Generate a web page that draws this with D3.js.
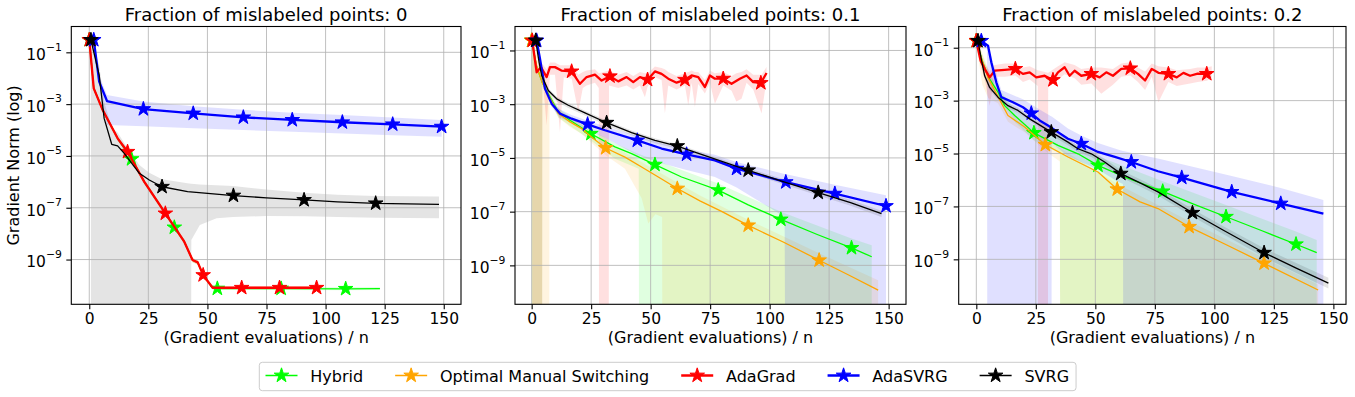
<!DOCTYPE html>
<html><head><meta charset="utf-8">
<script src="https://cdn.jsdelivr.net/npm/d3@7"></script>
<style>body{margin:0;background:#fff} text{font-family:"DejaVu Sans",sans-serif}</style>
</head><body>
<svg id="c" width="1355" height="397"></svg>
<script>
// ---------- labels / ticks ----------
const TITLES = ["Fraction of mislabeled points: 0", "Fraction of mislabeled points: 0.1", "Fraction of mislabeled points: 0.2"];
const SERIES_NAMES = ["Hybrid", "Optimal Manual Switching", "AdaGrad", "AdaSVRG", "SVRG"];
const X_TICKS = [0, 25, 50, 75, 100, 125, 150];
const Y_TICK_EXP = [-1, -3, -5, -7, -9];
const X_LABEL = "(Gradient evaluations) / n";
const Y_LABEL = "Gradient Norm (log)";

// ---------- data: x = gradient evals / n, y = log10(gradient norm) ----------
// Panel 0 (fraction 0)
const HY0_X = [0, 1.9, 5.7, 12, 17.9, 23.3, 32.2, 36, 40.2, 43.7, 45.9, 48.2, 52.2, 54.2, 81.2, 108.5, 123];
const HY0_Y = [-0.52, -2.39, -3.23, -4.32, -5.12, -6.0, -7.22, -7.76, -8.31, -9.02, -9.11, -9.60, -10.09, -10.12, -10.12, -10.13, -10.12];
const HY0_STARS = [[0, -0.52], [17.9, -5.12], [36, -7.76], [54.2, -10.12], [81.2, -10.12], [108.5, -10.13]];
const HY0_BX = HY0_X;
const HY0_HI = [-0.45, -2.3, -3.15, -4.24, -5.04, -5.92, -7.14, -7.68, -8.23, -8.94, -9.03, -9.52, -10.03, -10.06, -10.06, -10.07, -10.06];
const HY0_LO = [-0.6, -2.48, -3.31, -4.4, -5.2, -6.08, -7.3, -7.84, -8.39, -9.1, -9.19, -9.68, -10.15, -10.18, -10.18, -10.19, -10.18];

const OM0_X = [0, 1.9, 5.7, 12, 16.2, 23.3, 32.2, 40.2, 43.7, 45.9, 48.2, 52.2, 64.5, 80.5, 96.2];
const OM0_Y = [-0.52, -2.39, -3.23, -4.32, -4.84, -6.0, -7.22, -8.31, -9.02, -9.11, -9.60, -10.09, -10.09, -10.09, -10.09];
const OM0_STARS = [];
const OM0_BX = OM0_X;
const OM0_HI = [-0.45, -2.3, -3.15, -4.24, -4.76, -5.92, -7.14, -8.23, -8.94, -9.03, -9.52, -10.03, -10.03, -10.03, -10.03];
const OM0_LO = [-0.6, -2.48, -3.31, -4.4, -4.92, -6.08, -7.3, -8.39, -9.1, -9.19, -9.68, -10.15, -10.15, -10.15, -10.15];

const AG0_X = [0, 1.9, 5.7, 12, 16.2, 23.3, 32.2, 40.2, 43.7, 45.9, 48.2, 52.2, 64.5, 80.5, 96.2];
const AG0_Y = [-0.52, -2.39, -3.23, -4.32, -4.84, -6.0, -7.22, -8.31, -9.02, -9.11, -9.60, -10.09, -10.09, -10.09, -10.09];
const AG0_STARS = [[0, -0.52], [16.2, -4.84], [32.2, -7.22], [48.2, -9.60], [64.5, -10.09], [80.5, -10.09], [96.2, -10.09]];
const AG0_BX = AG0_X;
const AG0_HI = [-0.45, -2.3, -3.15, -4.24, -4.76, -5.92, -7.14, -8.23, -8.94, -9.03, -9.52, -10.03, -10.03, -10.03, -10.03];
const AG0_LO = [-0.6, -2.48, -3.31, -4.4, -4.92, -6.08, -7.3, -8.39, -9.1, -9.19, -9.68, -10.15, -10.15, -10.15, -10.15];

const AS0_X = [1.9, 4.2, 7.5, 22.9, 44, 65.2, 85.9, 107.1, 128.4, 149.1];
const AS0_Y = [-0.52, -2.13, -2.88, -3.19, -3.36, -3.51, -3.61, -3.70, -3.78, -3.87];
const AS0_STARS = [[1.9, -0.52], [22.9, -3.19], [44, -3.36], [65.2, -3.51], [85.9, -3.61], [107.1, -3.70], [128.4, -3.78], [149.1, -3.87]];
const AS0_BX = AS0_X;
const AS0_HI = [-0.45, -1.9, -2.65, -2.9, -3.08, -3.22, -3.33, -3.42, -3.52, -3.61];
const AS0_LO = [-0.6, -2.25, -3.81, -3.85, -3.93, -4.0, -4.07, -4.13, -4.2, -4.26];

const SV0_X = [0.7, 4.2, 6.3, 9.5, 12, 14.8, 21.2, 25.4, 30.8, 41.6, 61, 75, 90.9, 105, 121.2, 148];
const SV0_Y = [-0.52, -1.88, -3.55, -4.55, -4.61, -4.9, -5.67, -5.93, -6.19, -6.38, -6.53, -6.62, -6.70, -6.77, -6.83, -6.87];
const SV0_STARS = [[0.7, -0.52], [30.8, -6.19], [61, -6.53], [90.9, -6.70], [121.2, -6.83]];
const SV0_BX = [0.7, 4.2, 6.3, 9.5, 12, 14.8, 21.2, 25.4, 30.8, 41.6, 43.1, 43.2, 46.8, 53.9, 61, 75, 90.9, 105, 121.2, 148];
const SV0_HI = [-0.45, -1.5, -2.9, -3.9, -4.1, -4.5, -5.35, -5.65, -5.9, -6.05, -6.07, -6.07, -6.1, -6.13, -6.16, -6.3, -6.42, -6.5, -6.55, -6.57];
const SV0_LO = [-13, -13, -13, -13, -13, -13, -13, -13, -13, -13, -13, -8.25, -7.67, -7.41, -7.36, -7.32, -7.33, -7.36, -7.39, -7.41];

// Panel 1 (fraction 0.1)
const HY1_X = [0, 2.1, 4.5, 7, 11.2, 16.1, 24.9, 35, 42, 51.8, 63, 78.4, 91, 104.7, 120, 134.4, 142.9];
const HY1_Y = [-0.63, -1.6, -2.2, -2.61, -3.29, -3.60, -4.10, -4.59, -4.84, -5.25, -5.71, -6.20, -6.75, -7.29, -7.85, -8.35, -8.68];
const HY1_STARS = [[0, -0.63], [24.9, -4.10], [51.8, -5.25], [78.4, -6.20], [104.7, -7.29], [134.4, -8.35]];
const HY1_BX = [0, 2.1, 4.4, 4.5, 7, 11.2, 16.1, 24.9, 35, 45, 45.1, 63, 78.4, 104.7, 134.4, 142.9];
const HY1_HI = [-0.5, -1.5, -2.05, -2.1, -2.5, -3.15, -3.45, -3.95, -4.45, -4.85, -4.85, -5.45, -5.95, -7.0, -8.0, -8.25];
const HY1_LO = [-13, -13, -13, -2.35, -2.75, -3.5, -3.8, -4.35, -5.03, -5.4, -13, -13, -13, -13, -13, -13];

const OM1_X = [0, 2.1, 4.5, 7, 11.2, 16.1, 21, 25.9, 31.1, 39.2, 46.2, 53.2, 61.2, 70.7, 80, 91, 105.7, 120.8, 133, 145.6];
const OM1_Y = [-0.63, -1.6, -2.2, -2.65, -3.35, -3.66, -3.91, -4.28, -4.63, -4.97, -5.34, -5.71, -6.14, -6.60, -7.0, -7.51, -8.13, -8.81, -9.35, -9.92];
const OM1_STARS = [[0, -0.63], [31.1, -4.63], [61.2, -6.14], [91, -7.51], [120.8, -8.81]];
const OM1_BX = [0, 7.4, 7.5, 11.2, 16.1, 21, 25.9, 31.1, 39.2, 46.2, 49, 52, 54.8, 54.9, 70.7, 91, 120.8, 145.6];
const OM1_HI = [-0.5, -2.5, -2.5, -3.2, -3.5, -3.75, -4.1, -4.45, -4.8, -5.15, -5.3, -5.45, -5.6, -5.6, -6.4, -7.3, -8.55, -9.55];
const OM1_LO = [-13, -13, -2.8, -3.5, -3.85, -4.1, -4.5, -4.9, -5.4, -6.5, -7.44, -7.1, -7.2, -13, -13, -13, -13, -13];

const AG1_X = [0.25, 2.1, 3.9, 6.3, 7.7, 9.8, 12.5, 16.8, 20.3, 23.1, 26.6, 29.4, 32.9, 36.4, 39.9, 42.7, 45.5, 48.7, 51.8, 54.6, 57.4, 60.9, 64.4, 67.2, 70, 72.8, 74.9, 77, 80.5, 84, 87.5, 90.3, 93.1, 96.3, 98.7];
const AG1_Y = [-0.63, -1.81, -1.62, -1.99, -1.62, -1.62, -1.75, -1.78, -2.24, -1.99, -1.90, -2.12, -1.96, -2.15, -1.99, -2.18, -1.99, -2.09, -1.78, -1.87, -2.05, -2.20, -2.09, -1.93, -1.99, -2.36, -1.93, -2.05, -2.05, -2.24, -2.05, -1.93, -2.18, -2.21, -1.84];
const AG1_STARS = [[0.25, -0.63], [16.8, -1.78], [32.9, -1.96], [48.7, -2.09], [64.4, -2.09], [80.5, -2.05], [96.3, -2.21]];
const AG1_BX = [0.25, 2.1, 3.9, 4.4, 4.5, 6.3, 7.7, 9.8, 11.9, 13.5, 16.8, 19.6, 21.5, 23.1, 26.6, 28.2, 28.3, 32.4, 32.5, 36.4, 39.9, 42.7, 45.5, 47.6, 48.7, 51.8, 54.6, 56, 57.4, 60.9, 64.4, 65.8, 67.2, 68.6, 70, 72.8, 74.9, 77, 80.5, 84, 86, 88.2, 90.3, 93.1, 96.6, 98.7];
const AG1_HI = [-0.55, -1.55, -1.45, -1.5, -1.5, -1.7, -1.45, -1.45, -1.55, -1.55, -1.55, -1.9, -1.8, -1.75, -1.7, -1.85, -1.85, -1.75, -1.75, -1.9, -1.8, -1.95, -1.8, -1.85, -1.85, -1.6, -1.65, -1.7, -1.8, -1.95, -1.85, -1.8, -1.75, -1.8, -1.8, -2.1, -1.75, -1.85, -1.8, -1.95, -1.85, -1.8, -1.7, -1.9, -1.9, -1.62];
const AG1_LO = [-13, -13, -13, -13, -1.95, -3.79, -1.9, -1.9, -4.04, -2.0, -2.05, -3.29, -2.4, -2.3, -2.2, -2.4, -13, -13, -2.3, -2.4, -2.3, -2.45, -2.3, -2.74, -2.35, -2.0, -2.1, -3.35, -2.3, -2.45, -2.3, -3.05, -2.2, -3.1, -2.25, -2.6, -2.2, -2.98, -2.3, -2.5, -2.9, -2.8, -2.2, -2.45, -3.35, -2.1];

const AS1_X = [2.1, 3.5, 5.6, 8.4, 11.9, 16.8, 23.5, 30.8, 44.4, 54.6, 65.1, 77, 86.1, 106.8, 127.4, 148.9];
const AS1_Y = [-0.63, -1.31, -2.42, -2.98, -3.35, -3.54, -3.75, -3.97, -4.35, -4.65, -4.87, -5.09, -5.40, -5.90, -6.33, -6.79];
const AS1_STARS = [[2.1, -0.63], [23.5, -3.75], [44.4, -4.35], [65.1, -4.87], [86.1, -5.40], [106.8, -5.90], [127.4, -6.33], [148.9, -6.79]];
const AS1_BX = [2.1, 3.5, 5.6, 8.4, 11.9, 16.8, 23.5, 30.8, 44.4, 54.6, 65.1, 77, 86.1, 106.3, 106.5, 127.4, 148.9];
const AS1_HI = [-0.55, -1.2, -2.3, -2.85, -3.2, -3.4, -3.62, -3.82, -4.18, -4.45, -4.68, -4.88, -5.15, -5.6, -5.6, -6.0, -6.39];
const AS1_LO = [-0.7, -1.4, -2.55, -3.1, -3.5, -3.7, -3.95, -4.25, -4.9, -5.2, -5.45, -5.71, -6.1, -7.2, -13, -13, -13];

const SV1_X = [1.7, 3.1, 4.2, 7, 10.5, 15.4, 22.4, 31.5, 42, 51.8, 61.2, 71, 91, 105, 120.4, 134, 147];
const SV1_Y = [-0.63, -1.43, -1.93, -2.49, -2.80, -3.04, -3.32, -3.69, -4.06, -4.35, -4.56, -4.86, -5.46, -5.86, -6.29, -6.66, -7.07];
const SV1_STARS = [[1.7, -0.63], [31.5, -3.69], [61.2, -4.56], [91, -5.46], [120.4, -6.29]];
const SV1_BX = SV1_X;
const SV1_HI = [-0.56, -1.35, -1.85, -2.41, -2.72, -2.96, -3.24, -3.61, -3.98, -4.27, -4.48, -4.78, -5.38, -5.77, -6.2, -6.56, -6.97];
const SV1_LO = [-0.72, -1.53, -2.03, -2.59, -2.9, -3.14, -3.42, -3.79, -4.16, -4.45, -4.66, -4.96, -5.56, -5.96, -6.4, -6.78, -7.2];

// Panel 2 (fraction 0.2)
const HY2_X = [0, 2.5, 5, 9.1, 11.9, 16.1, 24.2, 34.3, 42.7, 51.1, 62.4, 78.3, 91, 104.9, 120, 134.3, 143];
const HY2_Y = [-0.74, -1.5, -2.1, -2.68, -3.19, -3.56, -4.22, -4.69, -5.01, -5.45, -5.89, -6.43, -6.9, -7.39, -7.92, -8.43, -8.75];
const HY2_STARS = [[0, -0.74], [24.2, -4.22], [51.1, -5.45], [78.3, -6.43], [104.9, -7.39], [134.3, -8.43]];
const HY2_BX = [0, 5, 9.1, 16.1, 24.2, 35.1, 35.2, 51.1, 78.3, 104.9, 134.3, 143];
const HY2_HI = [-0.65, -1.9, -2.5, -3.35, -3.95, -4.4, -4.4, -5.1, -6.05, -6.95, -7.95, -8.27];
const HY2_LO = [-0.85, -2.3, -2.9, -3.8, -4.5, -5.0, -13, -13, -13, -13, -13, -13];

const OM2_X = [0, 2.5, 5, 9.1, 13.3, 20.3, 29, 38.5, 51.1, 59.2, 68.8, 76.3, 89.4, 105, 120.9, 143.6];
const OM2_Y = [-0.74, -1.5, -2.15, -2.85, -3.56, -4.0, -4.67, -5.13, -5.70, -6.35, -6.83, -7.08, -7.77, -8.45, -9.15, -10.16];
const OM2_STARS = [[0, -0.74], [29, -4.67], [59.2, -6.35], [89.4, -7.77], [120.9, -9.15]];
const OM2_BX = [0, 2.5, 5, 9.1, 13.3, 20.3, 29, 35.1, 35.2, 59.2, 89.4, 120.9, 143.6];
const OM2_HI = [-0.6, -1.2, -1.8, -2.65, -3.4, -3.85, -4.5, -4.8, -4.8, -6.15, -7.55, -8.95, -9.95];
const OM2_LO = [-0.9, -2.4, -2.9, -3.1, -3.8, -4.2, -4.9, -5.3, -13, -13, -13, -13, -13];

const AG2_X = [0, 1.8, 3.5, 5.6, 7.7, 11.9, 16.4, 19.6, 22.4, 25.2, 28.7, 32.2, 34.3, 37.1, 39.2, 41.3, 44.1, 48.3, 51.8, 54.6, 57.4, 60.9, 64.7, 67.9, 70.9, 73.7, 76.5, 80.7, 84.2, 87, 89.8, 93, 96.8, 98.9];
const AG2_Y = [-0.74, -1.49, -1.80, -2.12, -1.87, -1.84, -1.80, -1.99, -1.93, -2.12, -2.06, -2.22, -1.93, -1.74, -2.06, -1.87, -2.06, -1.99, -2.12, -1.93, -2.06, -1.80, -1.78, -1.99, -2.24, -1.80, -1.95, -1.99, -2.12, -1.95, -2.06, -1.98, -1.99, -1.93];
const AG2_STARS = [[0, -0.74], [16.4, -1.80], [32.2, -2.22], [48.3, -1.99], [64.7, -1.78], [80.7, -1.99], [96.8, -1.99]];
const AG2_BX = [0, 1.8, 3.5, 5.6, 7.7, 11.9, 16.4, 19.6, 22.4, 25.8, 25.9, 30.1, 30.2, 34.3, 37.1, 41.3, 44.1, 48.3, 52.5, 57.4, 60.9, 64.7, 67.9, 70.9, 73.7, 76.5, 80.7, 84.2, 89.8, 93, 96.8, 98.9];
const AG2_HI = [-0.65, -1.3, -1.6, -1.9, -1.65, -1.6, -1.6, -1.75, -1.7, -1.85, -1.85, -1.95, -1.95, -1.7, -1.55, -1.65, -1.8, -1.75, -1.75, -1.8, -1.6, -1.55, -1.75, -1.9, -1.6, -1.7, -1.75, -1.85, -1.8, -1.75, -1.75, -1.7];
const AG2_LO = [-0.85, -1.7, -2.2, -3.19, -2.1, -2.1, -2.05, -2.3, -2.2, -2.45, -13, -13, -2.5, -2.2, -2.0, -2.15, -2.4, -2.35, -2.74, -2.4, -2.1, -2.05, -2.3, -2.6, -2.1, -3.06, -2.3, -2.45, -2.35, -2.3, -2.25, -2.15];

const AS2_X = [2.1, 4.9, 6.3, 8.4, 10.5, 15.4, 19.6, 23.1, 26.6, 30.1, 34.3, 38.5, 44.1, 51.1, 58.2, 65.1, 76.3, 86.3, 107.3, 127.9, 145.8];
const AS2_Y = [-0.74, -0.92, -1.55, -2.31, -2.87, -3.06, -3.25, -3.48, -3.75, -3.94, -4.19, -4.44, -4.63, -4.94, -5.13, -5.32, -5.67, -5.91, -6.45, -6.89, -7.27];
const AS2_STARS = [[2.1, -0.74], [23.1, -3.48], [44.1, -4.63], [65.1, -5.32], [86.3, -5.91], [107.3, -6.45], [127.9, -6.89]];
const AS2_BX = [2.1, 4.5, 4.6, 10.5, 19.6, 27.3, 31.6, 31.7, 38.5, 44.1, 51.1, 59.5, 61.6, 61.7, 76.3, 107.3, 127.9, 145.8];
const AS2_HI = [-0.65, -0.85, -0.85, -2.6, -2.95, -3.37, -3.6, -3.6, -4.05, -4.32, -4.6, -4.85, -4.9, -4.9, -5.19, -5.85, -6.3, -6.76];
const AS2_LO = [-0.85, -1.0, -13, -13, -13, -13, -13, -4.6, -5.1, -5.32, -5.6, -6.07, -6.15, -13, -13, -13, -13, -13];

const SV2_X = [0.7, 2.1, 3.5, 5.6, 9.1, 13.3, 17.5, 22.4, 31.5, 38.5, 42.7, 48.3, 53.9, 60.7, 68.8, 76.3, 90.8, 103.8, 120.9, 134.6, 147.9];
const SV2_Y = [-0.74, -1.43, -2.06, -2.50, -2.87, -3.19, -3.37, -3.69, -4.19, -4.57, -4.82, -5.01, -5.32, -5.76, -6.11, -6.45, -7.24, -7.9, -8.75, -9.34, -9.90];
const SV2_STARS = [[0.7, -0.74], [31.5, -4.19], [60.7, -5.76], [90.8, -7.24], [120.9, -8.75]];
const SV2_BX = SV2_X;
const SV2_HI = [-0.66, -1.33, -1.96, -2.4, -2.77, -3.09, -3.27, -3.59, -4.07, -4.45, -4.7, -4.89, -5.2, -5.62, -5.97, -6.31, -7.1, -7.75, -8.58, -9.15, -9.7];
const SV2_LO = [-0.84, -1.53, -2.16, -2.6, -2.97, -3.29, -3.47, -3.79, -4.31, -4.69, -4.94, -5.13, -5.44, -5.9, -6.25, -6.59, -7.38, -8.05, -8.92, -9.53, -10.1];

// ---------- assemble ----------
function mk(x, y, stars, bx, lo, hi) { return {x, y, stars, bx, lo, hi}; }
const PANEL_DATA = [
  [mk(HY0_X, HY0_Y, HY0_STARS, HY0_BX, HY0_LO, HY0_HI), mk(OM0_X, OM0_Y, OM0_STARS, OM0_BX, OM0_LO, OM0_HI), mk(AG0_X, AG0_Y, AG0_STARS, AG0_BX, AG0_LO, AG0_HI), mk(AS0_X, AS0_Y, AS0_STARS, AS0_BX, AS0_LO, AS0_HI), mk(SV0_X, SV0_Y, SV0_STARS, SV0_BX, SV0_LO, SV0_HI)],
  [mk(HY1_X, HY1_Y, HY1_STARS, HY1_BX, HY1_LO, HY1_HI), mk(OM1_X, OM1_Y, OM1_STARS, OM1_BX, OM1_LO, OM1_HI), mk(AG1_X, AG1_Y, AG1_STARS, AG1_BX, AG1_LO, AG1_HI), mk(AS1_X, AS1_Y, AS1_STARS, AS1_BX, AS1_LO, AS1_HI), mk(SV1_X, SV1_Y, SV1_STARS, SV1_BX, SV1_LO, SV1_HI)],
  [mk(HY2_X, HY2_Y, HY2_STARS, HY2_BX, HY2_LO, HY2_HI), mk(OM2_X, OM2_Y, OM2_STARS, OM2_BX, OM2_LO, OM2_HI), mk(AG2_X, AG2_Y, AG2_STARS, AG2_BX, AG2_LO, AG2_HI), mk(AS2_X, AS2_Y, AS2_STARS, AS2_BX, AS2_LO, AS2_HI), mk(SV2_X, SV2_Y, SV2_STARS, SV2_BX, SV2_LO, SV2_HI)]
];

// ---------- styles / layout ----------
const STYLES = [
  {color: "#00ff00", w: 1.3, fa: 0.12},
  {color: "#ffa500", w: 1.3, fa: 0.12},
  {color: "#ff0000", w: 2.3, fa: 0.12},
  {color: "#0000ff", w: 2.3, fa: 0.12},
  {color: "#000000", w: 1.3, fa: 0.105}
];
const LAYOUT = [
  {left: 71.3, right: 461, xd: [-7.6, 157.3], yd: [-10.728, -0.003]},
  {left: 515, right: 906, xd: [-7.0, 157.3], yd: [-10.449, -0.108]},
  {left: 958.7, right: 1346, xd: [-7.4, 155.3], yd: [-10.70, -0.198]}
];
const TOP = 26.5, BOT = 304.3;
const STAR_SIZE = 66;
const P = v => Math.pow(10, v);

const svg = d3.select("#c");
const defs = svg.append("defs");
const star = d3.symbol().type(d3.symbolStar).size(STAR_SIZE);

LAYOUT.forEach((L, pi) => {
  const xs = d3.scaleLinear().domain(L.xd).range([L.left, L.right]);
  const ys = d3.scaleLog().domain([P(L.yd[0]), P(L.yd[1])]).range([BOT, TOP]);
  const g = svg.append("g");
  defs.append("clipPath").attr("id", "clip" + pi).append("rect")
    .attr("x", L.left).attr("y", TOP).attr("width", L.right - L.left).attr("height", BOT - TOP);
  const data = PANEL_DATA[pi];

  // fills
  const fills = g.append("g").attr("clip-path", `url(#clip${pi})`);
  data.forEach((s, si) => {
    const pts = s.bx.map((x, i) => [x, s.lo[i], s.hi[i]]);
    const area = d3.area().x(d => xs(d[0])).y0(d => Math.min(ys(P(d[1])), BOT + 50)).y1(d => ys(P(d[2])));
    fills.append("path").attr("d", area(pts)).attr("fill", STYLES[si].color).attr("fill-opacity", STYLES[si].fa).attr("stroke", "none");
  });

  // grid
  const grid = g.append("g").attr("stroke", "#b0b0b0").attr("stroke-width", 0.8);
  X_TICKS.forEach(t => grid.append("line").attr("x1", xs(t)).attr("x2", xs(t)).attr("y1", TOP).attr("y2", BOT));
  Y_TICK_EXP.forEach(e => grid.append("line").attr("x1", L.left).attr("x2", L.right).attr("y1", ys(P(e))).attr("y2", ys(P(e))));

  // lines + stars
  const lines = g.append("g").attr("clip-path", `url(#clip${pi})`);
  data.forEach((s, si) => {
    const st = STYLES[si];
    const pts = s.x.map((x, i) => [x, s.y[i]]);
    const line = d3.line().x(d => xs(d[0])).y(d => ys(P(d[1])));
    const sg = lines.append("g");
    sg.append("path").attr("d", line(pts)).attr("fill", "none").attr("stroke", st.color)
      .attr("stroke-width", st.w).attr("stroke-linejoin", "round");
    sg.selectAll("path.star").data(s.stars).join("path").attr("class", "star")
      .attr("d", star).attr("transform", d => `translate(${xs(d[0])},${ys(P(d[1]))})`)
      .attr("fill", st.color).attr("stroke", st.color).attr("stroke-width", 1);
  });

  // spines
  g.append("rect").attr("x", L.left).attr("y", TOP).attr("width", L.right - L.left).attr("height", BOT - TOP)
    .attr("fill", "none").attr("stroke", "#000").attr("stroke-width", 1.1);

  // x axis
  const xa = d3.axisBottom(xs).tickValues(X_TICKS).tickSize(5).tickPadding(3.7);
  const xg = g.append("g").attr("transform", `translate(0,${BOT})`).call(xa);
  xg.attr("font-family", null).attr("font-size", null);
  xg.select(".domain").remove();
  xg.selectAll("line").attr("stroke", "#000").attr("stroke-width", 1.1);
  xg.selectAll("text").attr("font-size", 15.5).attr("fill", "#000").style("font-family", "DejaVu Sans");

  // y axis
  const ya = d3.axisLeft(ys).tickValues(Y_TICK_EXP.map(P)).tickSize(5).tickFormat(() => "");
  const yg = g.append("g").attr("transform", `translate(${L.left},0)`).call(ya);
  yg.attr("font-family", null).attr("font-size", null);
  yg.select(".domain").remove();
  yg.selectAll("line").attr("stroke", "#000").attr("stroke-width", 1.1);
  yg.selectAll(".tick text").remove();
  yg.selectAll(".tick").each(function(d, i) {
    const t = d3.select(this).append("text").attr("x", -9.5).attr("y", 7.3)
      .attr("text-anchor", "end").attr("fill", "#000").attr("font-size", 15.5);
    t.append("tspan").text("10");
    t.append("tspan").attr("font-size", 10.8).attr("dy", -9.5).text("\u2212" + (-Y_TICK_EXP[i]));
  });

  // title and x label
  g.append("text").attr("x", (L.left + L.right) / 2).attr("y", 20.5).attr("text-anchor", "middle")
    .attr("font-size", 18).attr("fill", "#000").text(TITLES[pi]);
  g.append("text").attr("x", (L.left + L.right) / 2).attr("y", 343).attr("text-anchor", "middle")
    .attr("font-size", 16).attr("fill", "#000").text(X_LABEL);
  if (pi === 0) {
    g.append("text").attr("transform", `translate(19,${(TOP + BOT) / 2}) rotate(-90)`)
      .attr("text-anchor", "middle").attr("font-size", 16).attr("fill", "#000").text(Y_LABEL);
  }
});

// ---------- legend ----------
const leg = svg.append("g");
const legBox = leg.append("rect").attr("y", 362.3).attr("height", 28.4).attr("rx", 3)
  .attr("fill", "#fff").attr("fill-opacity", 0.8).attr("stroke", "#cccccc").attr("stroke-width", 1);
let cx = 265.5;
const legStart = cx - 6.2;
const LY = 375.5;
SERIES_NAMES.forEach((name, si) => {
  const st = STYLES[si];
  leg.append("line").attr("x1", cx).attr("x2", cx + 32).attr("y1", LY).attr("y2", LY)
    .attr("stroke", st.color).attr("stroke-width", st.w);
  leg.append("path").attr("d", star).attr("transform", `translate(${cx + 16},${LY})`)
    .attr("fill", st.color).attr("stroke", st.color).attr("stroke-width", 1);
  const t = leg.append("text").attr("x", cx + 44.8).attr("y", 381.5).attr("font-size", 16).attr("fill", "#000").text(name);
  const w = t.node().getComputedTextLength();
  cx = cx + 44.8 + w + 32;
});
legBox.attr("x", legStart).attr("width", (cx - 32 + 7) - legStart);
</script>
</body></html>
